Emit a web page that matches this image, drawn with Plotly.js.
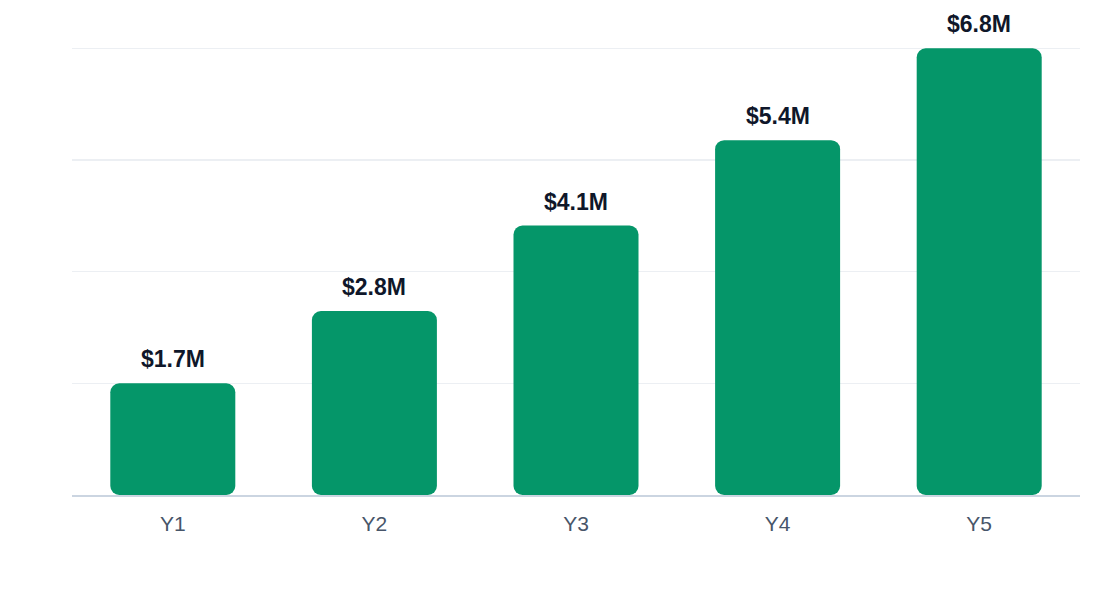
<!DOCTYPE html>
<html>
<head>
<meta charset="utf-8">
<script src="https://cdn.plot.ly/plotly-3.0.1.min.js"></script>
<style>html,body{margin:0;padding:0;background:#fff;}#chart{width:1120px;height:600px;}</style>
</head>
<body>
<div id="chart"></div>
<script>
const categories = ["Y1", "Y2", "Y3", "Y4", "Y5"];
const values = [1.7, 2.8, 4.1, 5.4, 6.8];
const labels = ["$1.7M", "$2.8M", "$4.1M", "$5.4M", "$6.8M"];

const green = "#059669";
const maxV = Math.max(...values);
const gridVals = [0, 1, 2, 3, 4].map(i => maxV * i / 4);

const bars = {
  type: "bar", x: categories, y: values,
  base: values.map(() => 0.001),
  marker: {color: green, cornerradius: 9, line: {width: 0}},
  hoverinfo: "skip", showlegend: false
};

const annotations = categories.map((c, i) => ({
  x: c, y: values[i], xref: "x", yref: "y",
  text: "<b>" + labels[i] + "</b>", showarrow: false,
  yanchor: "bottom", yshift: 9,
  font: {family: "Liberation Sans, Arial, sans-serif", size: 23, color: "#0f172a"}
}));

const layout = {
  width: 1120, height: 600,
  margin: {l: 72, r: 40, t: 47, b: 105},
  paper_bgcolor: "#ffffff", plot_bgcolor: "#ffffff",
  barmode: "overlay", bargap: 0.38,
  showlegend: false,
  xaxis: {
    showline: true, linecolor: "#cbd5e1", linewidth: 2,
    showgrid: false, zeroline: false, ticks: "",
    ticklabelstandoff: 9,
    tickfont: {family: "Liberation Sans, Arial, sans-serif", size: 21, color: "#475569"}
  },
  yaxis: {
    range: [0, maxV * 1.003], tickvals: gridVals, showticklabels: false,
    showgrid: true, gridcolor: "#eceff3", gridwidth: 1.5,
    zeroline: false, showline: false
  },
  annotations: annotations
};

Plotly.newPlot("chart", [bars], layout, {displayModeBar: false, staticPlot: true});
</script>
</body>
</html>
